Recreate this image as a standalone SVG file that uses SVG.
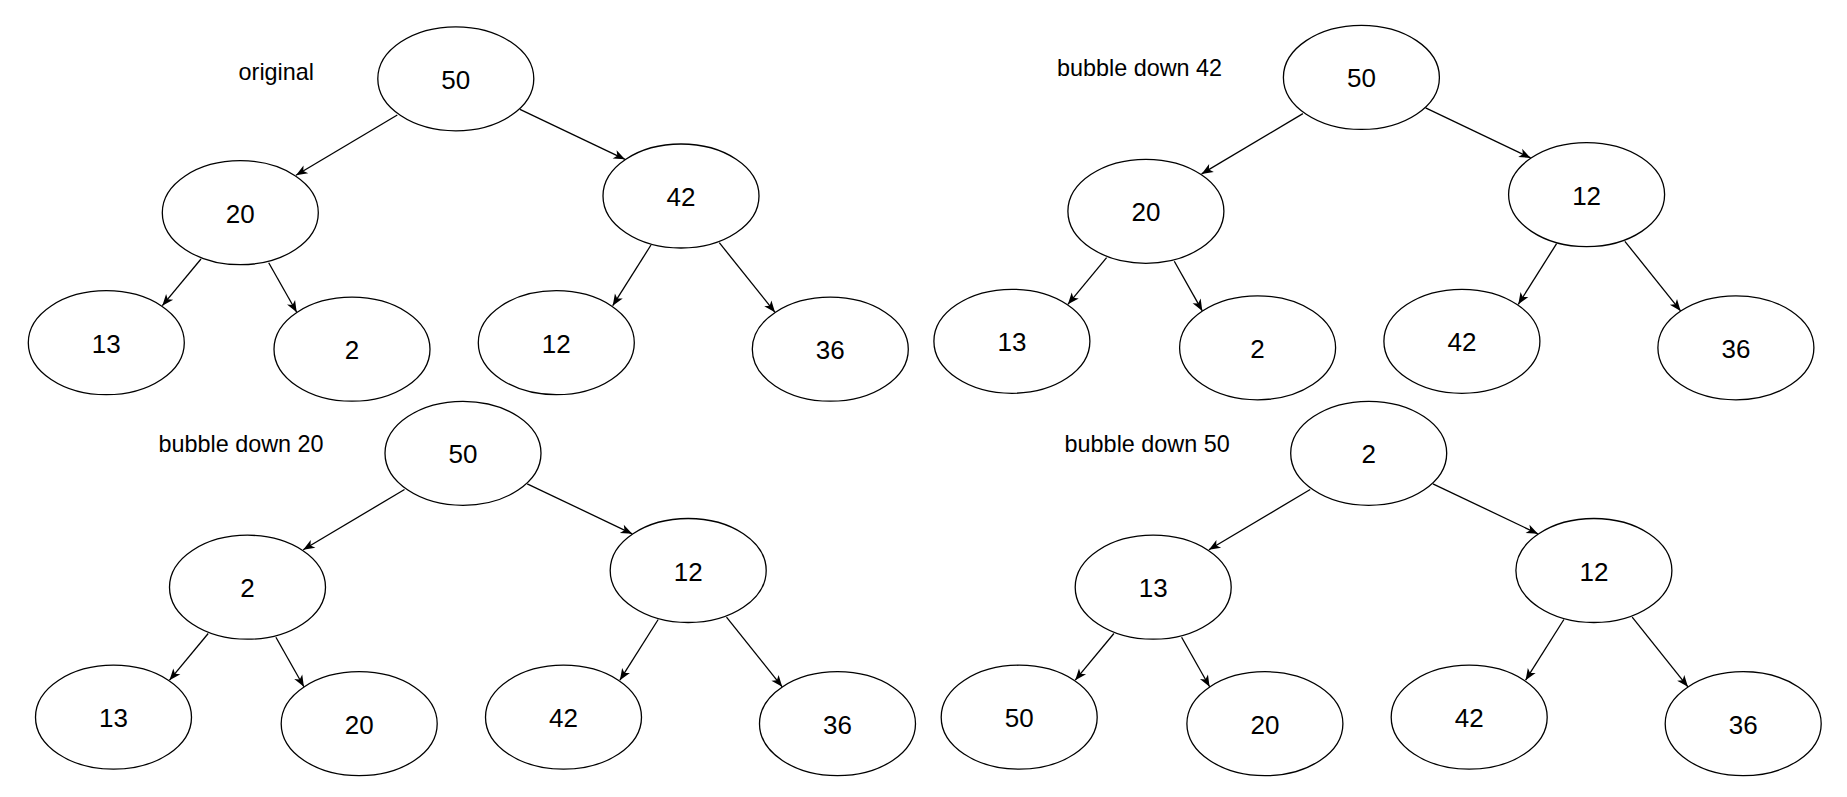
<svg xmlns="http://www.w3.org/2000/svg" width="1847" height="797" viewBox="0 0 1847 797">
<style>
.n ellipse{fill:#fff;stroke:#000;stroke-width:1.3}
.n text{font-family:"Liberation Sans",Arial,sans-serif;font-size:26px;text-anchor:middle;fill:#000}
.lbl{font-family:"Liberation Sans",Arial,sans-serif;font-size:23.4px;text-anchor:middle;fill:#000}
.c line{stroke:#000;stroke-width:1.3;fill:none;marker-end:url(#arr)}
</style>
<defs>
<marker id="arr" markerUnits="userSpaceOnUse" markerWidth="14" markerHeight="12" viewBox="-12 -6 14 12" refX="0" refY="0" orient="auto">
<path d="M0,0 L-11.5,-4.6 L-8.5,0 L-11.5,4.6 Z" fill="#000"/>
</marker>
</defs>
<rect width="1847" height="797" fill="#fff"/>
<g id="connectors">
<g class="c" id="conn-t1">
<line x1="397.3" y1="115" x2="296" y2="175.3"/>
<line x1="520" y1="109.3" x2="625" y2="159.3"/>
<line x1="201" y1="259" x2="162.3" y2="305.7"/>
<line x1="268.7" y1="262.7" x2="296.7" y2="312.3"/>
<line x1="651" y1="245" x2="612.7" y2="305.7"/>
<line x1="719.3" y1="242.7" x2="775" y2="312.3"/>
</g>
<g class="c" id="conn-t2" transform="translate(905.6,-1.4)">
<line x1="397.3" y1="115" x2="296" y2="175.3"/>
<line x1="520" y1="109.3" x2="625" y2="159.3"/>
<line x1="201" y1="259" x2="162.3" y2="305.7"/>
<line x1="268.7" y1="262.7" x2="296.7" y2="312.3"/>
<line x1="651" y1="245" x2="612.7" y2="305.7"/>
<line x1="719.3" y1="242.7" x2="775" y2="312.3"/>
</g>
<g class="c" id="conn-t3" transform="translate(7.2,374.5)">
<line x1="397.3" y1="115" x2="296" y2="175.3"/>
<line x1="520" y1="109.3" x2="625" y2="159.3"/>
<line x1="201" y1="259" x2="162.3" y2="305.7"/>
<line x1="268.7" y1="262.7" x2="296.7" y2="312.3"/>
<line x1="651" y1="245" x2="612.7" y2="305.7"/>
<line x1="719.3" y1="242.7" x2="775" y2="312.3"/>
</g>
<g class="c" id="conn-t4" transform="translate(912.9,374.5)">
<line x1="397.3" y1="115" x2="296" y2="175.3"/>
<line x1="520" y1="109.3" x2="625" y2="159.3"/>
<line x1="201" y1="259" x2="162.3" y2="305.7"/>
<line x1="268.7" y1="262.7" x2="296.7" y2="312.3"/>
<line x1="651" y1="245" x2="612.7" y2="305.7"/>
<line x1="719.3" y1="242.7" x2="775" y2="312.3"/>
</g>
</g>

<g id="tree1">
<text class="lbl" x="276.3" y="80">original</text>
<g class="n" id="t1-root"><ellipse cx="455.8" cy="78.8" rx="78" ry="52"/><text x="455.8" y="88.8">50</text></g>
<g class="n" id="t1-l"><ellipse cx="240.3" cy="212.7" rx="78" ry="52"/><text x="240.3" y="222.7">20</text></g>
<g class="n" id="t1-r"><ellipse cx="681" cy="196" rx="78" ry="52"/><text x="681" y="206">42</text></g>
<g class="n" id="t1-ll"><ellipse cx="106.3" cy="342.7" rx="78" ry="52"/><text x="106.3" y="352.7">13</text></g>
<g class="n" id="t1-lr"><ellipse cx="352" cy="349.2" rx="78" ry="52"/><text x="352" y="359.2">2</text></g>
<g class="n" id="t1-rl"><ellipse cx="556.3" cy="342.7" rx="78" ry="52"/><text x="556.3" y="352.7">12</text></g>
<g class="n" id="t1-rr"><ellipse cx="830.3" cy="349.2" rx="78" ry="52"/><text x="830.3" y="359.2">36</text></g>
</g>

<g id="tree2">
<text class="lbl" x="1139.5" y="75.7">bubble down 42</text>
<g transform="translate(905.6,-1.4)">
<g class="n" id="t2-root"><ellipse cx="455.8" cy="78.8" rx="78" ry="52"/><text x="455.8" y="88.8">50</text></g>
<g class="n" id="t2-l"><ellipse cx="240.3" cy="212.7" rx="78" ry="52"/><text x="240.3" y="222.7">20</text></g>
<g class="n" id="t2-r"><ellipse cx="681" cy="196" rx="78" ry="52"/><text x="681" y="206">12</text></g>
<g class="n" id="t2-ll"><ellipse cx="106.3" cy="342.7" rx="78" ry="52"/><text x="106.3" y="352.7">13</text></g>
<g class="n" id="t2-lr"><ellipse cx="352" cy="349.2" rx="78" ry="52"/><text x="352" y="359.2">2</text></g>
<g class="n" id="t2-rl"><ellipse cx="556.3" cy="342.7" rx="78" ry="52"/><text x="556.3" y="352.7">42</text></g>
<g class="n" id="t2-rr"><ellipse cx="830.3" cy="349.2" rx="78" ry="52"/><text x="830.3" y="359.2">36</text></g>
</g>
</g>

<g id="tree3">
<text class="lbl" x="241" y="451.7">bubble down 20</text>
<g transform="translate(7.2,374.5)">
<g class="n" id="t3-root"><ellipse cx="455.8" cy="78.8" rx="78" ry="52"/><text x="455.8" y="88.8">50</text></g>
<g class="n" id="t3-l"><ellipse cx="240.3" cy="212.7" rx="78" ry="52"/><text x="240.3" y="222.7">2</text></g>
<g class="n" id="t3-r"><ellipse cx="681" cy="196" rx="78" ry="52"/><text x="681" y="206">12</text></g>
<g class="n" id="t3-ll"><ellipse cx="106.3" cy="342.7" rx="78" ry="52"/><text x="106.3" y="352.7">13</text></g>
<g class="n" id="t3-lr"><ellipse cx="352" cy="349.2" rx="78" ry="52"/><text x="352" y="359.2">20</text></g>
<g class="n" id="t3-rl"><ellipse cx="556.3" cy="342.7" rx="78" ry="52"/><text x="556.3" y="352.7">42</text></g>
<g class="n" id="t3-rr"><ellipse cx="830.3" cy="349.2" rx="78" ry="52"/><text x="830.3" y="359.2">36</text></g>
</g>
</g>

<g id="tree4">
<text class="lbl" x="1147.2" y="451.7">bubble down 50</text>
<g transform="translate(912.9,374.5)">
<g class="n" id="t4-root"><ellipse cx="455.8" cy="78.8" rx="78" ry="52"/><text x="455.8" y="88.8">2</text></g>
<g class="n" id="t4-l"><ellipse cx="240.3" cy="212.7" rx="78" ry="52"/><text x="240.3" y="222.7">13</text></g>
<g class="n" id="t4-r"><ellipse cx="681" cy="196" rx="78" ry="52"/><text x="681" y="206">12</text></g>
<g class="n" id="t4-ll"><ellipse cx="106.3" cy="342.7" rx="78" ry="52"/><text x="106.3" y="352.7">50</text></g>
<g class="n" id="t4-lr"><ellipse cx="352" cy="349.2" rx="78" ry="52"/><text x="352" y="359.2">20</text></g>
<g class="n" id="t4-rl"><ellipse cx="556.3" cy="342.7" rx="78" ry="52"/><text x="556.3" y="352.7">42</text></g>
<g class="n" id="t4-rr"><ellipse cx="830.3" cy="349.2" rx="78" ry="52"/><text x="830.3" y="359.2">36</text></g>
</g>
</g>
</svg>
